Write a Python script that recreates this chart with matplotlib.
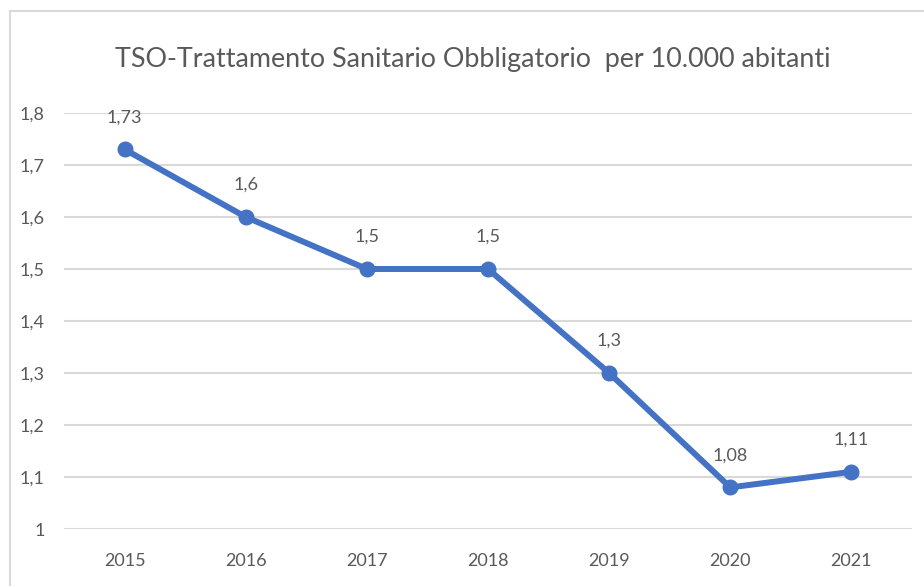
import matplotlib
matplotlib.use("Agg")
import matplotlib.pyplot as plt
from matplotlib.patches import Rectangle
from matplotlib.ticker import FuncFormatter

years = ["2015", "2016", "2017", "2018", "2019", "2020", "2021"]
values = [1.73, 1.6, 1.5, 1.5, 1.3, 1.08, 1.11]
y_ticks = [1.0, 1.1, 1.2, 1.3, 1.4, 1.5, 1.6, 1.7, 1.8]
title = "TSO-Trattamento Sanitario Obbligatorio  per 10.000 abitanti"

plt.rcParams["font.family"] = ["Lato", "DejaVu Sans"]

BLUE = "#4472C4"
TEXT = "#595959"
GRID = "#D9D9D9"


def it_num(v):
    s = f"{v:.2f}".rstrip("0").rstrip(".")
    return s.replace(".", ",")


fig = plt.figure(figsize=(9.24, 5.86), dpi=100)
fig.patch.set_facecolor("white")

# chart-area frame
fig.patches.append(Rectangle((10 / 924, -0.2), 2.0, 1.2 - 11 / 586,
                             transform=fig.transFigure, fill=False,
                             edgecolor=GRID, linewidth=1.5, zorder=0))

ax = fig.add_axes([64 / 924, 1 - 529 / 586, (912 - 64) / 924, (529 - 113) / 586])
x = list(range(len(years)))
ax.plot(x, values, color=BLUE, linewidth=4.3, marker="o", markersize=10.5,
        solid_capstyle="round", zorder=3, clip_on=False)

for xi, v in zip(x, values):
    ax.annotate(it_num(v), (xi, v), xytext=(0, 23), textcoords="offset points",
                ha="center", va="center", fontsize=13, color=TEXT)

ax.set_xlim(-0.5, len(years) - 0.5)
ax.set_ylim(1.0, 1.8)
ax.set_xticks(x)
ax.set_xticklabels(years)
ax.set_yticks(y_ticks)
ax.yaxis.set_major_formatter(FuncFormatter(lambda v, p: it_num(v)))
ax.tick_params(axis="both", length=0, labelsize=13, labelcolor=TEXT)
ax.tick_params(axis="x", pad=17)
ax.tick_params(axis="y", pad=14)
ax.grid(axis="y", color=GRID, linewidth=1.5)
ax.set_axisbelow(True)
for s in ax.spines.values():
    s.set_visible(False)

fig.text(473 / 924, 1 - 59 / 586, title, ha="center", va="center",
         fontsize=19.4, color=TEXT)

fig.savefig("out.png", dpi=100, facecolor="white")
